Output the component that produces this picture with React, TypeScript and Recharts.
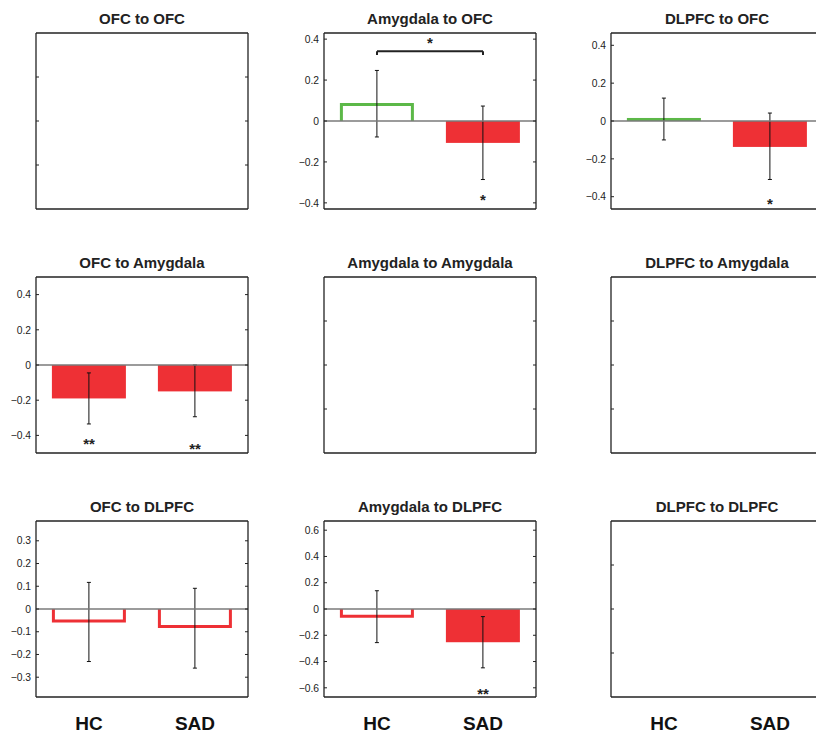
import React from 'react';
import { BarChart, Bar, XAxis, YAxis, ErrorBar, ReferenceLine, ReferenceDot } from 'recharts';

// ---------- data ----------
const groups = ['HC', 'SAD'];
const titles = [
  'OFC to OFC', 'Amygdala to OFC', 'DLPFC to OFC',
  'OFC to Amygdala', 'Amygdala to Amygdala', 'DLPFC to Amygdala',
  'OFC to DLPFC', 'Amygdala to DLPFC', 'DLPFC to DLPFC',
];

const amyToOfcMean = [0.088, -0.107];
const amyToOfcLow = [-0.078, -0.286];
const amyToOfcHigh = [0.247, 0.073];

const dlpfcToOfcMean = [0.016, -0.137];
const dlpfcToOfcLow = [-0.1, -0.309];
const dlpfcToOfcHigh = [0.121, 0.042];

const ofcToAmyMean = [-0.19, -0.15];
const ofcToAmyLow = [-0.335, -0.294];
const ofcToAmyHigh = [-0.045, 0.0];

const ofcToDlpfcMean = [-0.059, -0.084];
const ofcToDlpfcLow = [-0.231, -0.26];
const ofcToDlpfcHigh = [0.117, 0.091];

const amyToDlpfcMean = [-0.066, -0.253];
const amyToDlpfcLow = [-0.256, -0.448];
const amyToDlpfcHigh = [0.139, -0.058];

const ticks04 = [-0.4, -0.2, 0, 0.2, 0.4];
const ticks03 = [-0.3, -0.2, -0.1, 0, 0.1, 0.2, 0.3];
const ticks06 = [-0.6, -0.4, -0.2, 0, 0.2, 0.4, 0.6];
const ticksEmpty = [0.25, 0.5, 0.75];

// significance marks (group, y value, text)
const amyToOfcStars = [{ group: 'SAD', y: -0.371, text: '*' }];
const dlpfcToOfcStars = [{ group: 'SAD', y: -0.424, text: '*' }];
const ofcToAmyStars = [
  { group: 'HC', y: -0.43, text: '**' },
  { group: 'SAD', y: -0.459, text: '**' },
];
const amyToDlpfcStars = [{ group: 'SAD', y: -0.621, text: '**' }];
const amyToOfcBracket = { y: 0.341, foot: 0.322, text: '*' };

// ---------- style ----------
const GREEN = '#5cb848';
const RED = '#ee3035';
const AX = '#222';
const FONT = '"Liberation Sans", Arial, Helvetica, sans-serif';
const COL_LEFT = [36, 324, 611];
const ROW_TOP = [33, 277, 521];
const PLOT_W = 212;
const PLOT_H = 176;
const LEFT_W = 60;
const RIGHT_W = 10;
const TOP_M = 10;
const BOTTOM_H = 40;
const OUTLINE_W = 3;

type Star = { group: string; y: number; text: string };
type Panel = {
  title: string;
  mean?: number[];
  low?: number[];
  high?: number[];
  domain: [number, number];
  ticks: number[];
  labels: boolean;
  colors?: string[];
  filled?: boolean[];
  stars?: Star[];
  bracket?: { y: number; foot: number; text: string };
};

const panels: Panel[] = [
  { title: titles[0], domain: [0, 1], ticks: ticksEmpty, labels: false },
  {
    title: titles[1], mean: amyToOfcMean, low: amyToOfcLow, high: amyToOfcHigh,
    domain: [-0.43, 0.43], ticks: ticks04, labels: true,
    colors: [GREEN, RED], filled: [false, true], stars: amyToOfcStars, bracket: amyToOfcBracket,
  },
  {
    title: titles[2], mean: dlpfcToOfcMean, low: dlpfcToOfcLow, high: dlpfcToOfcHigh,
    domain: [-0.465, 0.465], ticks: ticks04, labels: true,
    colors: [GREEN, RED], filled: [true, true], stars: dlpfcToOfcStars,
  },
  {
    title: titles[3], mean: ofcToAmyMean, low: ofcToAmyLow, high: ofcToAmyHigh,
    domain: [-0.5, 0.5], ticks: ticks04, labels: true,
    colors: [RED, RED], filled: [true, true], stars: ofcToAmyStars,
  },
  { title: titles[4], domain: [0, 1], ticks: ticksEmpty, labels: false },
  { title: titles[5], domain: [0, 1], ticks: ticksEmpty, labels: false },
  {
    title: titles[6], mean: ofcToDlpfcMean, low: ofcToDlpfcLow, high: ofcToDlpfcHigh,
    domain: [-0.387, 0.387], ticks: ticks03, labels: true,
    colors: [RED, RED], filled: [false, false],
  },
  {
    title: titles[7], mean: amyToDlpfcMean, low: amyToDlpfcLow, high: amyToDlpfcHigh,
    domain: [-0.67, 0.67], ticks: ticks06, labels: true,
    colors: [RED, RED], filled: [false, true], stars: amyToDlpfcStars,
  },
  { title: titles[8], domain: [0, 1], ticks: ticksEmpty, labels: false },
];

const fmt = (v: number) => {
  if (Math.abs(v) < 1e-9) return '0';
  const s = Number(Math.abs(v).toFixed(2)).toString();
  return v < 0 ? '\u2212' + s : s;
};

const LeftTick = (props: any) => {
  const { x, y, payload, labels } = props;
  return (
    <g>
      <line x1={x} x2={x + 3} y1={y} y2={y} stroke={AX} strokeWidth={1} />
      {labels && (
        <text x={x - 5} y={y + 3.7} textAnchor="end" fontSize={10.3} fill="#222" fontFamily={FONT}>
          {fmt(payload.value)}
        </text>
      )}
    </g>
  );
};

const RightTick = (props: any) => {
  const { x, y } = props;
  return <line x1={x - 3} x2={x} y1={y} y2={y} stroke={AX} strokeWidth={1} />;
};

const BottomTick = (props: any) => {
  const { x, y, payload } = props;
  return (
    <text x={x} y={y + 32.5} textAnchor="middle" fontSize={19} fontWeight="bold" fill="#111" fontFamily={FONT}>
      {payload.value}
    </text>
  );
};

const starLabel = (text: string, dy: number) => (props: any) => {
  const vb = props.viewBox || {};
  const cx = (vb.x ?? 0) + (vb.width ?? 0) / 2;
  const cy = (vb.y ?? 0) + (vb.height ?? 0) / 2;
  return (
    <text x={cx} y={cy + dy} textAnchor="middle" fontSize={15} fontWeight="bold" fill="#222" fontFamily={FONT}>
      {text}
    </text>
  );
};

const makeShape = (p: Panel) => (props: any) => {
  const { x, y, width, height, index } = props;
  if (!p.mean || x == null || y == null) return <g />;
  const c = p.colors ? p.colors[index] : RED;
  const f = p.filled ? p.filled[index] : true;
  const top = Math.min(y, y + height);
  const bot = Math.max(y, y + height);
  if (f) return <rect x={x} y={top} width={width} height={Math.max(bot - top, 0)} fill={c} />;
  const h = OUTLINE_W / 2;
  const v = p.mean[index];
  const d = v >= 0
    ? `M${x + h},${bot} L${x + h},${top + h} L${x + width - h},${top + h} L${x + width - h},${bot}`
    : `M${x + h},${top} L${x + h},${bot - h} L${x + width - h},${bot - h} L${x + width - h},${top}`;
  return <path d={d} fill="none" stroke={c} strokeWidth={OUTLINE_W} strokeLinejoin="miter" />;
};

function PanelChart({ p, col, row }: { p: Panel; col: number; row: number }) {
  const data = groups.map((g, i) => ({
    group: g,
    mean: p.mean ? p.mean[i] : null,
    err: p.mean && p.low && p.high ? [p.mean[i] - p.low[i], p.high[i] - p.mean[i]] : null,
  }));
  const showX = row === 2;
  const axisLine = { stroke: AX, strokeWidth: 1.3 };
  return (
    <div style={{ position: 'absolute', left: COL_LEFT[col] - LEFT_W, top: ROW_TOP[row] - TOP_M }}>
      <BarChart
        width={LEFT_W + PLOT_W + RIGHT_W}
        height={TOP_M + PLOT_H + BOTTOM_H}
        data={data}
        margin={{ top: TOP_M, right: 0, bottom: 0, left: 0 }}
        barCategoryGap="15%"
      >
        <XAxis
          xAxisId="b" dataKey="group" type="category" height={BOTTOM_H}
          axisLine={axisLine} tickLine={false} tickSize={0} tickMargin={0} interval={0}
          tick={showX ? <BottomTick /> : false}
        />
        <YAxis
          yAxisId="l" type="number" width={LEFT_W} domain={p.domain} ticks={p.ticks}
          allowDataOverflow interval={0} axisLine={axisLine} tickLine={false}
          tickSize={0} tickMargin={0} tick={<LeftTick labels={p.labels} />}
        />
        <YAxis
          yAxisId="r" type="number" orientation="right" width={RIGHT_W} domain={p.domain}
          ticks={p.ticks} allowDataOverflow interval={0} axisLine={axisLine} tickLine={false}
          tickSize={0} tickMargin={0} tick={<RightTick />}
        />
        <Bar xAxisId="b" yAxisId="l" dataKey="mean" isAnimationActive={false} shape={makeShape(p)}>
          {p.mean && (
            <ErrorBar dataKey="err" width={2} stroke="#111" strokeWidth={1} direction="y" isAnimationActive={false} />
          )}
        </Bar>
        {p.mean && (
          <ReferenceLine xAxisId="b" yAxisId="l" y={0} stroke="#7a7a7a" strokeWidth={1.6} />
        )}
        <ReferenceLine xAxisId="b" yAxisId="l" y={p.domain[1]} stroke={AX} strokeWidth={1.3} />
        {p.bracket && (
          <ReferenceLine
            xAxisId="b" yAxisId="l"
            segment={[{ x: 'HC', y: p.bracket.y }, { x: 'SAD', y: p.bracket.y }]}
            stroke="#222" strokeWidth={2}
            label={starLabel(p.bracket.text, -3)}
          />
        )}
        {p.bracket && (
          <ReferenceLine
            xAxisId="b" yAxisId="l"
            segment={[{ x: 'HC', y: p.bracket.y }, { x: 'HC', y: p.bracket.foot }]}
            stroke="#222" strokeWidth={2}
          />
        )}
        {p.bracket && (
          <ReferenceLine
            xAxisId="b" yAxisId="l"
            segment={[{ x: 'SAD', y: p.bracket.y }, { x: 'SAD', y: p.bracket.foot }]}
            stroke="#222" strokeWidth={2}
          />
        )}
        {(p.stars || []).map((s, i) => (
          <ReferenceDot
            key={'s' + i} xAxisId="b" yAxisId="l" x={s.group} y={s.y} r={1}
            fill="none" stroke="none" label={starLabel(s.text, 8)}
          />
        ))}
      </BarChart>
    </div>
  );
}

export default function App() {
  return (
    <div
      style={{
        position: 'absolute', left: 0, top: 0, width: 816, height: 736,
        overflow: 'hidden', background: '#fff',
      }}
    >
      {panels.map((p, i) => (
        <PanelChart key={p.title} p={p} col={i % 3} row={Math.floor(i / 3)} />
      ))}
      <svg width={816} height={736} style={{ position: 'absolute', left: 0, top: 0, pointerEvents: 'none' }}>
        {panels.map((p, i) => {
          const col = i % 3;
          const row = Math.floor(i / 3);
          return (
            <text
              key={p.title}
              x={COL_LEFT[col] + PLOT_W / 2}
              y={ROW_TOP[row] - 9}
              textAnchor="middle"
              fontSize={15}
              fontWeight="bold"
              fill="#222"
              fontFamily={FONT}
            >
              {p.title}
            </text>
          );
        })}
      </svg>
    </div>
  );
}
